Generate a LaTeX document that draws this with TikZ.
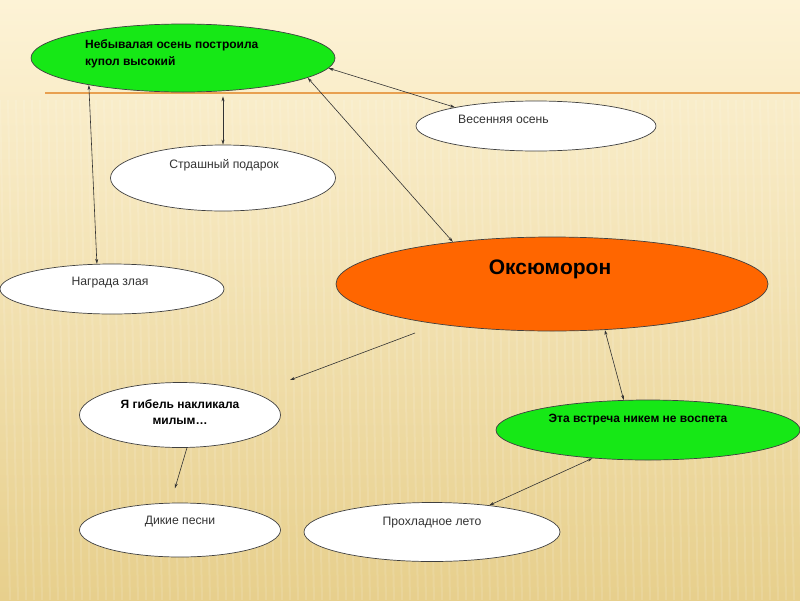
\documentclass[tikz,border=0pt]{standalone}
\usepackage{fontspec}
\setmainfont{Liberation Sans}
\usetikzlibrary{shapes.geometric,arrows.meta}
\definecolor{bgtop}{RGB}{253,243,214}
\definecolor{bgbot}{RGB}{231,207,140}
\definecolor{rule}{RGB}{232,160,80}
\definecolor{ggreen}{RGB}{22,232,22}
\definecolor{oorange}{RGB}{255,102,0}
\definecolor{lnk}{RGB}{50,50,50}
\tikzset{
  oval/.style={ellipse, draw=black!75, line width=0.7pt, inner sep=0pt},
  txt/.style={font=\fontsize{12.2}{15}\selectfont, text=black!80, inner sep=0pt},
  btxt/.style={font=\fontsize{12}{16.5}\selectfont\bfseries, text=black, inner sep=0pt},
  conn/.style={draw=lnk, line width=0.6pt},
  one/.style={conn, -{Stealth[length=5pt,width=3pt]}},
  two/.style={conn, {Stealth[length=5pt,width=3pt]}-{Stealth[length=5pt,width=3pt]}}
}
\begin{document}
\begin{tikzpicture}[x=1pt,y=-1pt]
\useasboundingbox (0,0) rectangle (800,600);
\shade[top color=bgtop, bottom color=bgbot] (0,0) rectangle (800,600);
\foreach \i in {0,8,...,800} {\draw[white,opacity=0.12,line width=2pt] (\i,100) -- (\i+10,600);}
\draw[rule, line width=1.6pt] (45,93) -- (800,93);

% ellipses
\node[oval, fill=ggreen, minimum width=304, minimum height=68] (e1) at (183,58) {};
\node[oval, fill=white, minimum width=240, minimum height=50] (e2) at (536,126) {};
\node[oval, fill=white, minimum width=225, minimum height=66] (e3) at (223,178) {};
\node[oval, fill=white, minimum width=224, minimum height=50] (e4) at (112,289) {};
\node[oval, fill=oorange, minimum width=432, minimum height=94] (e5) at (552,284) {};
\node[oval, fill=white, minimum width=201, minimum height=65] (e6) at (180,415) {};
\node[oval, fill=ggreen, minimum width=304, minimum height=60] (e7) at (648,430) {};
\node[oval, fill=white, minimum width=201, minimum height=54] (e8) at (180,530) {};
\node[oval, fill=white, minimum width=256, minimum height=59] (e9) at (432,532) {};

% texts
\node[btxt, anchor=west, align=left] (t1) at (85,54) {Небывалая осень построила\\купол высокий};
\node[txt, anchor=west] (t2) at (458,119) {Весенняя осень};
\node[txt] (t3) at (224,165) {Страшный подарок};
\node[txt] (t4) at (110,283) {Награда злая};
\node[btxt, font=\fontsize{21}{24}\selectfont\bfseries] (t5) at (550,269) {Оксюморон};
\node[btxt, align=center] (t6) at (180,412) {Я гибель накликала\\милым…};
\node[btxt] (t7) at (638,420) {Эта встреча никем не воспета};
\node[txt] (t8) at (180,522) {Дикие песни};
\node[txt] (t9) at (432,523) {Прохладное лето};

% free ends
\coordinate (a1) at (415,333);
\coordinate (a2) at (290,380);

% connectors
\draw[two] (e1.-4) -- (e2.167);
\draw[two] (e1.-9) -- (e5.157);
\draw[two] (e1.-164) -- (e4.121);
\draw[two, shorten >=4pt] (e3.north) -- (e3.north |- e1.south);
\draw[one] (a1) -- (a2);
\draw[one, shorten >=15pt] (e6.-78) -- (e8.109);
\draw[two] (e5.-41) -- (e7.129);
\draw[two] (e7.207) -- (e9.25);
\end{tikzpicture}
\end{document}
